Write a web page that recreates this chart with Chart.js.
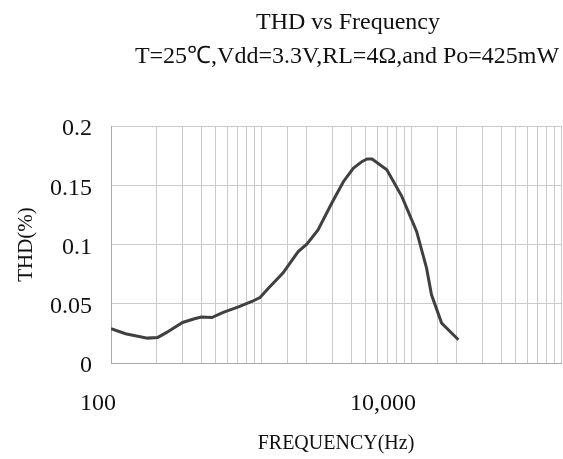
<!DOCTYPE html>
<html>
<head>
<meta charset="utf-8">
<script src="https://cdn.jsdelivr.net/npm/chart.js@4/dist/chart.umd.min.js"></script>
<style>
  body { margin: 0; background: #fff; }
  canvas { display: block; }
</style>
</head>
<body>
<canvas id="G1" width="563" height="459"></canvas>
<script>
// values
const freqs = [100, 125, 175, 205, 235, 300, 360, 400, 470, 560, 700, 870, 985,
  1120, 1400, 1770, 2020, 2400, 2960, 3540, 4120, 4700, 5100, 5500, 6900, 8700,
  10900, 12700, 13700, 16000, 20700];
const thd = [0.029, 0.0247, 0.021, 0.0216, 0.0258, 0.0342, 0.0373, 0.0388, 0.0384,
  0.0427, 0.0472, 0.0519, 0.0553, 0.063, 0.0759, 0.094, 0.1003, 0.1123, 0.1348,
  0.153, 0.1643, 0.1699, 0.1722, 0.1722, 0.163, 0.1404, 0.111, 0.080, 0.0576,
  0.0337, 0.0196];
const xLabels = { 100: '100', 10000: '10,000' };
const yLabels = { 0: '0', 0.05: '0.05', 0.1: '0.1', 0.15: '0.15', 0.2: '0.2' };

const titleText = 'THD vs Frequency';
const subtitleText = 'T=25\u2103,Vdd=3.3V,RL=4\u03A9,and Po=425mW';

const serif = '"Liberation Serif", "Times New Roman", serif';

// the two heading lines sit off-centre, so draw them ourselves
const headings = {
  id: 'headings',
  afterDraw(chart) {
    const ctx = chart.ctx;
    ctx.save();
    ctx.fillStyle = '#111';
    ctx.textAlign = 'center';
    ctx.textBaseline = 'middle';
    ctx.font = '24px ' + serif;
    ctx.fillText(titleText, 348, 23);
    ctx.fillText(subtitleText, 347, 57);
    ctx.restore();
  }
};

new Chart(document.getElementById('G1'), {
  type: 'line',
  data: {
    datasets: [{
      data: freqs.map((f, i) => ({ x: f, y: thd[i] })),
      borderColor: '#404040',
      borderWidth: 3,
      pointRadius: 0,
      tension: 0,
      fill: false
    }]
  },
  options: {
    responsive: false,
    animation: false,
    layout: { padding: { top: 126, right: 2, left: 0, bottom: 0 } },
    plugins: {
      legend: { display: false },
      tooltip: { enabled: false }
    },
    scales: {
      x: {
        type: 'logarithmic',
        min: 100,
        max: 100000,
        afterFit(scale) {
          scale.height = 96;
          // tick padding would otherwise eat into the right side
          scale.paddingRight = 0;
          scale.paddingLeft = 0;
        },
        grid: { color: '#cacaca', lineWidth: 1, drawTicks: false },
        border: { color: '#a8a8a8' },
        ticks: {
          autoSkip: false,
          maxRotation: 0,
          align: 'end',
          labelOffset: 5,
          padding: 26,
          color: '#111',
          font: { family: serif, size: 24 },
          callback: (v) => xLabels[v] || ''
        },
        title: {
          display: true,
          text: 'FREQUENCY(Hz)',
          color: '#111',
          font: { family: serif, size: 20 },
          padding: { top: 0, bottom: 3 }
        }
      },
      y: {
        min: 0,
        max: 0.2,
        afterFit(scale) { scale.width = 111; },
        grid: { color: '#cacaca', lineWidth: 1, drawTicks: false },
        border: { color: '#a8a8a8' },
        ticks: {
          stepSize: 0.05,
          padding: 19,
          labelOffset: 3,
          color: '#111',
          font: { family: serif, size: 24 },
          callback: (v) => yLabels[Math.round(v * 100) / 100] || ''
        },
        title: {
          display: true,
          text: 'THD(%)',
          color: '#111',
          font: { family: serif, size: 21 },
          padding: { top: 14, bottom: 0 }
        }
      }
    }
  },
  plugins: [headings]
});
</script>
</body>
</html>
